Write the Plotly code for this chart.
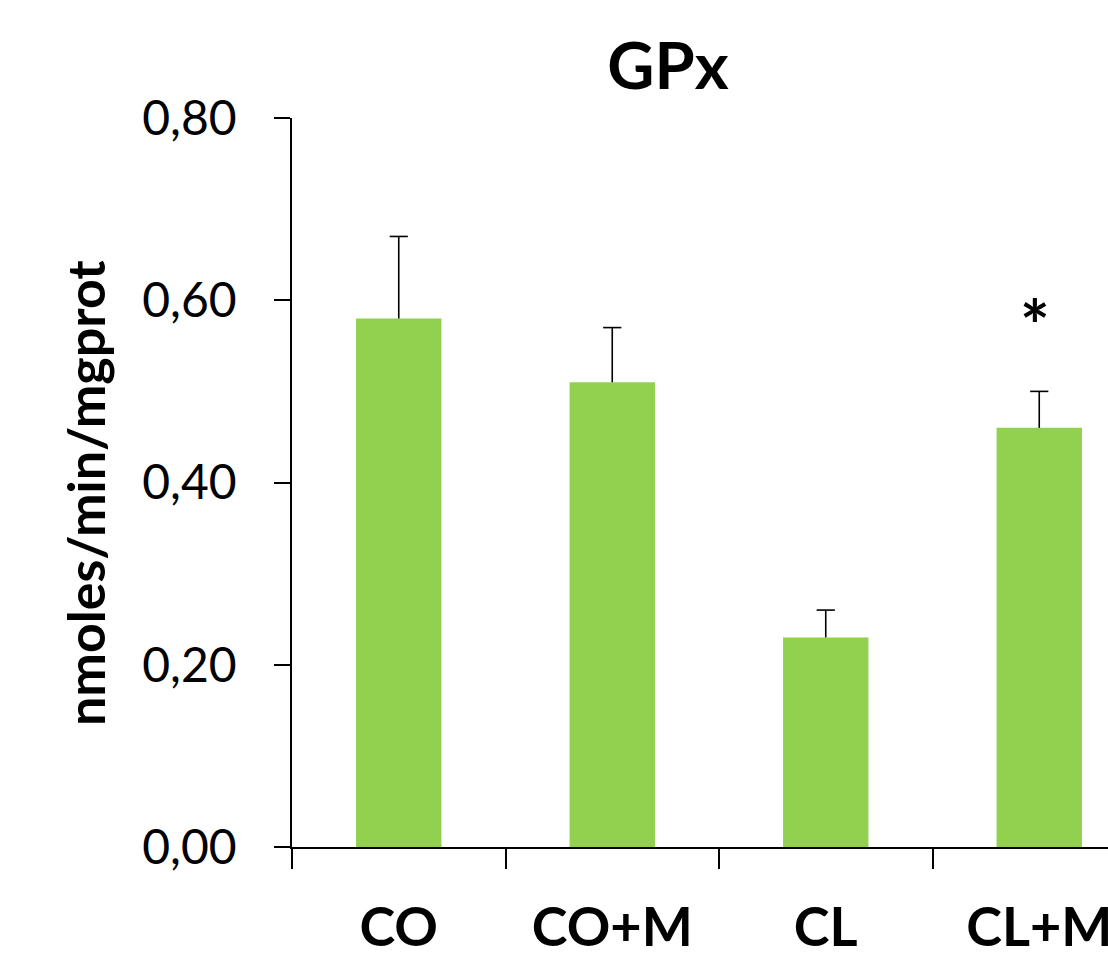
import plotly.graph_objects as go

categories = ["CO", "CO+M", "CL", "CL+M"]
values = [0.58, 0.51, 0.23, 0.46]
errors = [0.09, 0.06, 0.03, 0.04]
y_ticks = [0.0, 0.2, 0.4, 0.6, 0.8]
positions = [1, 2, 3, 4]
boundaries = [0.5, 1.5, 2.5, 3.5]

FONT = "Lato"
BAR = "#92D050"

fig = go.Figure()
fig.add_trace(go.Bar(
    x=positions, y=values, width=0.4,
    marker=dict(color=BAR, line=dict(width=0)),
    error_y=dict(type="data", array=errors, arrayminus=[0] * len(errors),
                 symmetric=False, color="black", thickness=1.6, width=0),
    showlegend=False,
))
# error bar caps (top only)
fig.add_trace(go.Scatter(
    x=positions, y=[v + e for v, e in zip(values, errors)], mode="markers",
    marker=dict(symbol="line-ew", size=13, line=dict(width=1.6, color="black")),
    showlegend=False, hoverinfo="skip",
))

fig.add_annotation(x=3.98, y=0.573, xref="x", yref="y", text="<b>*</b>",
                   showarrow=False, font=dict(family=FONT, size=70, color="black"),
                   xanchor="center", yanchor="middle")

fig.add_annotation(x=(85 - 292) / 816, y=(847 - 493) / 729, xref="paper", yref="paper",
                   text="<b>nmoles/min/mgprot</b>", textangle=-90, showarrow=False,
                   font=dict(family=FONT, size=52, color="black"),
                   xanchor="center", yanchor="middle")

fig.update_layout(
    width=1108, height=953,
    margin=dict(l=292, r=0, t=118, b=106, autoexpand=False),
    paper_bgcolor="white", plot_bgcolor="white",
    separators=",.",
    font=dict(family=FONT, color="black"),
    title=dict(text="<b>GPx</b>", x=668 / 1108, xanchor="center",
               y=1 - 66 / 953, yanchor="middle", yref="container",
               font=dict(family=FONT, size=65, color="black")),
    bargap=0.6,
)

fig.update_xaxes(
    range=[0.5, 0.5 + 816 / 213.5], automargin=False, ticklabeloverflow="allow",
    tickmode="array", tickvals=positions, ticktext=[f"<b>{c}</b>" for c in categories],
    ticks="", showline=True, linecolor="black", linewidth=1.6,
    showgrid=False, zeroline=False,
    tickfont=dict(family=FONT, size=54, color="black"),
    ticklabelstandoff=32,
    minor=dict(tickmode="array", tickvals=boundaries, ticks="outside", ticklen=20,
               tickwidth=1.6, tickcolor="black", showgrid=False),
)

fig.update_yaxes(
    range=[0, 0.8], automargin=False, tickmode="array", tickvals=y_ticks, tickformat=".2f",
    ticks="outside", ticklen=16, tickwidth=1.6, tickcolor="black",
    showline=True, linecolor="black", linewidth=1.6,
    showgrid=False, zeroline=False,
    tickfont=dict(family=FONT, size=48, color="black"),
    ticklabelstandoff=28,
)

fig.write_html("out.html", config={"displayModeBar": False},
               post_script="document.body.style.margin='0';document.body.style.overflow='hidden';")
